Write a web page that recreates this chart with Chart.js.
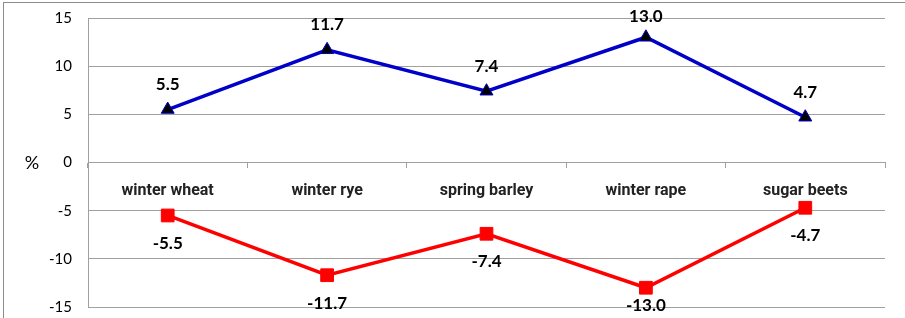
<!DOCTYPE html>
<html>
<head>
<meta charset="utf-8">
<script src="https://cdn.jsdelivr.net/npm/chart.js@4.4.1/dist/chart.umd.min.js"></script>
<style>
  html, body { margin: 0; padding: 0; background: #fff; }
  #frame { position: absolute; left: 3px; top: 2px; width: 910px; height: 330px; border: 1px solid #8c8c8c; }
  #wrap { position: absolute; left: 0; top: 0; width: 905px; height: 318px; }
</style>
</head>
<body>
<div id="frame"></div>
<div id="wrap"><canvas id="myChart" width="905" height="318"></canvas></div>
<script>
const crops = ['winter wheat', 'winter rye', 'spring barley', 'winter rape', 'sugar beets'];
const gains = [5.5, 11.7, 7.4, 13.0, 4.7];
const losses = [-5.5, -11.7, -7.4, -13.0, -4.7];
const yTicks = [-15, -10, -5, 0, 5, 10, 15];

// value labels above/below the points, and the "%" unit
const valueLabels = {
    id: 'valueLabels',
    afterDatasetsDraw(chart) {
        const ctx = chart.ctx;
        ctx.save();
        ctx.font = 'bold 17px Lato';
        ctx.fillStyle = '#000';
        ctx.textAlign = 'center';
        ctx.textBaseline = 'middle';
        chart.data.datasets.forEach((ds, i) => {
            chart.getDatasetMeta(i).data.forEach((pt, j) => {
                const v = ds.data[j];
                let y = v >= 0 ? pt.y - 25 : pt.y + 28;
                y = Math.max(Math.min(y, 306), 17);
                ctx.fillText(v.toFixed(1), pt.x, y);
            });
        });
        ctx.font = '18px Lato';
        ctx.fillText('%', 32, chart.scales.y.getPixelForValue(0) + 1);
        ctx.restore();
    }
};

const ctx = document.getElementById('myChart').getContext('2d');
const myChart = new Chart(ctx, {
    type: 'line',
    data: {
        labels: crops,
        datasets: [{
            data: gains,
            borderColor: '#0000c8',
            borderWidth: 3.5,
            pointStyle: 'triangle',
            pointRadius: 7.5,
            pointBackgroundColor: '#000',
            pointBorderColor: '#0000c8',
            pointBorderWidth: 1
        }, {
            data: losses,
            borderColor: '#ff0000',
            borderWidth: 3.5,
            pointStyle: 'rect',
            pointRadius: 9,
            pointBackgroundColor: '#ff0000',
            pointBorderColor: '#ff0000',
            pointBorderWidth: 1
        }]
    },
    options: {
        responsive: false,
        animation: false,
        layout: { padding: { left: 0, right: 20, top: 18, bottom: 11 } },
        plugins: { legend: { display: false }, tooltip: { enabled: false } },
        scales: {
            x: {
                position: { y: 0 },
                offset: true,
                grid: { drawOnChartArea: false, drawTicks: true, tickLength: 5, color: '#a0a0a0', offset: true },
                border: { color: '#a0a0a0', width: 1 },
                ticks: {
                    padding: 14,
                    color: '#222',
                    font: { family: 'Roboto', size: 16, weight: 'bold' }
                }
            },
            y: {
                min: -15,
                max: 15,
                afterFit(scale) { scale.width = 88; },
                afterBuildTicks(scale) { scale.ticks = yTicks.map(v => ({ value: v })); },
                grid: { color: '#a0a0a0', drawTicks: true, tickLength: 16, tickColor: 'rgba(0,0,0,0)' },
                border: { color: '#a0a0a0', width: 1 },
                ticks: {
                    padding: 0,
                    color: '#000',
                    font: { family: 'Lato', size: 15 }
                }
            }
        }
    },
    plugins: [valueLabels]
});
</script>
</body>
</html>
